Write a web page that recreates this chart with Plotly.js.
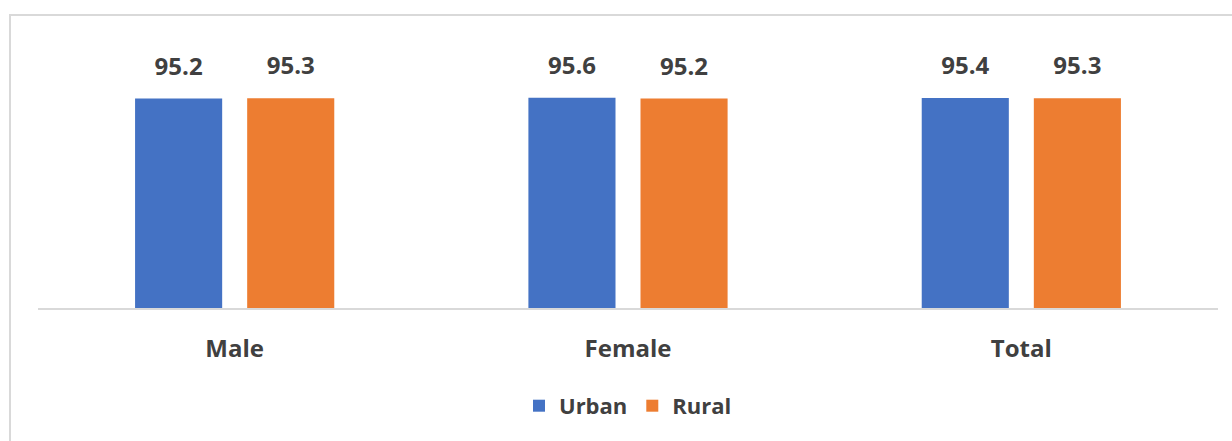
<!DOCTYPE html>
<html>
<head>
<meta charset="utf-8">
<script src="https://cdn.plot.ly/plotly-3.0.1.min.js"></script>
<style>
  html, body { margin: 0; padding: 0; background: #ffffff; }
  #wrap { position: relative; width: 1232px; height: 441px; overflow: hidden; }
  #frame { position: absolute; left: 9px; top: 14px; width: 1240px; height: 440px;
           border-top: 2px solid #d9d9d9; border-left: 2px solid #d9d9d9; }
  #chart { position: absolute; left: 0; top: 0; width: 1232px; height: 441px; }
</style>
</head>
<body>
<div id="wrap">
  <div id="frame"></div>
  <div id="chart"></div>
</div>
<script>
const categories = ["Male", "Female", "Total"];
const urbanValues = [95.2, 95.6, 95.4];
const ruralValues = [95.3, 95.2, 95.3];
const seriesNames = ["Urban", "Rural"];

const fmt = v => v.toFixed(1);
const labelFont = { family: "Open Sans, sans-serif", size: 24, color: "#404040", weight: 700 };

const traces = [
  { type: "bar", name: seriesNames[0], x: categories, y: urbanValues,
    marker: { color: "#4472C4" }, hoverinfo: "x+y+name" },
  { type: "bar", name: seriesNames[1], x: categories, y: ruralValues,
    marker: { color: "#ED7D31" }, hoverinfo: "x+y+name" },
  { type: "scatter", mode: "markers+text", x: categories, y: urbanValues,
    text: urbanValues.map(fmt), textposition: "top center", textfont: labelFont,
    marker: { size: 27, opacity: 0 }, showlegend: false, hoverinfo: "skip", cliponaxis: false },
  { type: "scatter", mode: "markers+text", x: categories, y: ruralValues,
    text: ruralValues.map(fmt), textposition: "top center", textfont: labelFont,
    marker: { size: 27, opacity: 0 }, showlegend: false, hoverinfo: "skip", cliponaxis: false }
];

const layout = {
  width: 1232, height: 441,
  margin: { l: 38, r: 14, t: 88, b: 133 },
  paper_bgcolor: "rgba(0,0,0,0)",
  plot_bgcolor: "rgba(0,0,0,0)",
  barmode: "group",
  scattermode: "group",
  bargap: 0.43,
  bargroupgap: 0.223,
  showlegend: true,
  legend: {
    orientation: "h", x: 0.5, xanchor: "center", y: -0.445, yanchor: "middle",
    font: { family: "Open Sans, sans-serif", size: 22, color: "#404040", weight: 700 },
    bgcolor: "rgba(0,0,0,0)"
  },
  xaxis: {
    type: "category",
    showline: true, linecolor: "#d9d9d9", linewidth: 2,
    showgrid: false, zeroline: false, ticks: "",
    ticklabelstandoff: 18,
    tickfont: { family: "Open Sans, sans-serif", size: 24, color: "#404040", weight: 700 },
    fixedrange: true
  },
  yaxis: {
    range: [0, 100], visible: false, showgrid: false, zeroline: false, fixedrange: true
  },
  font: { family: "Open Sans, sans-serif", color: "#404040" }
};

Plotly.newPlot("chart", traces, layout, { displayModeBar: false, staticPlot: true });
</script>
</body>
</html>
